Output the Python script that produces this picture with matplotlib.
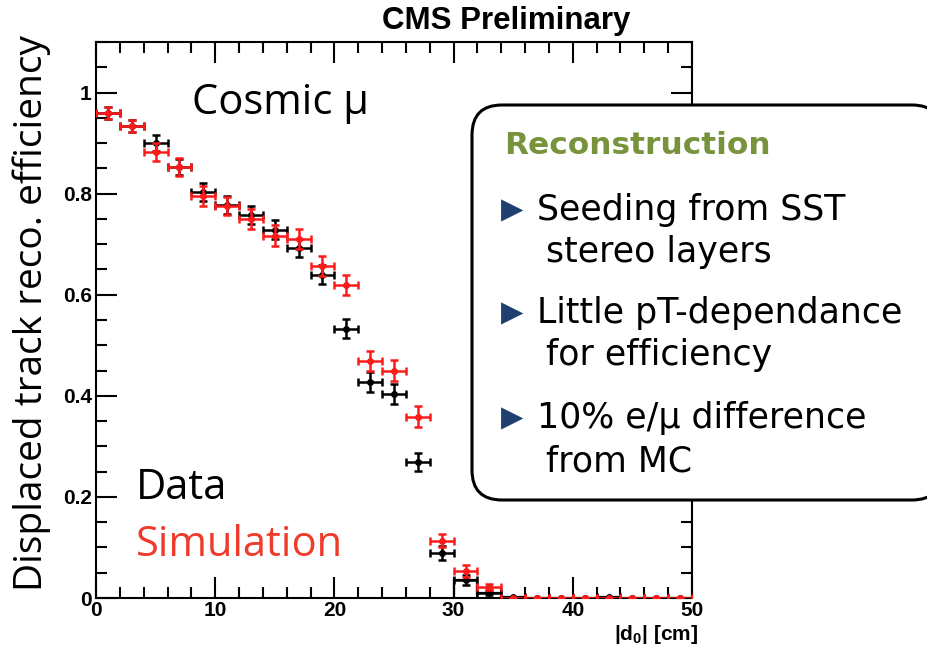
import matplotlib
matplotlib.use("Agg")
import matplotlib.pyplot as plt
from matplotlib.patches import FancyBboxPatch
from matplotlib.transforms import IdentityTransform
from matplotlib.ticker import MultipleLocator

# bin centres of |d0| [cm], 2 cm bins
bin_centres = [1, 3, 5, 7, 9, 11, 13, 15, 17, 19, 21, 23, 25,
               27, 29, 31, 33, 35, 37, 39, 41, 43, 45, 47, 49]
bin_half = 1.0

# efficiency
data_eff = [0.960, 0.933, 0.900, 0.853, 0.804, 0.778, 0.758, 0.729, 0.693,
            0.640, 0.533, 0.427, 0.404, 0.269, 0.089, 0.036, 0.010, 0.002,
            0.0, 0.0, 0.0, 0.002, 0.0, 0.0, 0.0]
data_err = [0.012, 0.012, 0.016, 0.016, 0.018, 0.018, 0.018, 0.018, 0.018,
            0.019, 0.019, 0.020, 0.020, 0.018, 0.013, 0.010, 0.005, 0.0,
            0.0, 0.0, 0.0, 0.0, 0.0, 0.0, 0.0]
sim_eff = [0.960, 0.933, 0.883, 0.853, 0.796, 0.775, 0.750, 0.717, 0.711,
           0.657, 0.620, 0.469, 0.450, 0.359, 0.113, 0.054, 0.022, 0.0,
           0.0, 0.0, 0.0, 0.0, 0.0, 0.0, 0.0]
sim_err = [0.012, 0.012, 0.018, 0.018, 0.020, 0.018, 0.020, 0.020, 0.020,
           0.020, 0.020, 0.020, 0.020, 0.020, 0.013, 0.012, 0.006, 0.0,
           0.0, 0.0, 0.0, 0.0, 0.0, 0.0, 0.0]

# tail of the data histogram drawn as a step outline (from 30 cm)
tail_start = 15

W, H = 928, 655
fig = plt.figure(figsize=(W / 100, H / 100), dpi=100)
plt.rcParams['mathtext.fontset'] = 'custom'
plt.rcParams['mathtext.bf'] = 'Liberation Sans:bold'
plt.rcParams['mathtext.rm'] = 'Liberation Sans'

ax = fig.add_axes([96 / W, 1 - 598 / H, (692 - 96) / W, (598 - 42) / H])
ax.set_xlim(0, 50)
ax.set_ylim(0, 1.1)

edges = [c - bin_half for c in bin_centres[tail_start:]] + [bin_centres[-1] + bin_half]
ax.stairs(data_eff[tail_start:], edges, color='black', lw=1.6, zorder=2)

ax.errorbar(bin_centres, data_eff, xerr=bin_half, yerr=data_err, fmt='o',
            color='black', ms=4, lw=1.8, capsize=3, capthick=1.8, zorder=3)
ax.errorbar(bin_centres, sim_eff, xerr=bin_half, yerr=sim_err, fmt='o',
            color='#ff1a1a', ms=4, lw=1.8, capsize=3, capthick=1.8, zorder=4)

for s in ax.spines.values():
    s.set_linewidth(1.5)
ax.xaxis.set_major_locator(MultipleLocator(10))
ax.xaxis.set_minor_locator(MultipleLocator(2))
ax.yaxis.set_major_locator(MultipleLocator(0.2))
ax.yaxis.set_minor_locator(MultipleLocator(0.05))
ax.tick_params(which='both', direction='in', top=True, right=True, width=1.5)
ax.tick_params(which='major', length=15)
ax.tick_params(which='minor', length=8)
ax.tick_params(axis='x', pad=2)
ax.tick_params(axis='y', pad=3)
ax.set_yticks([0, 0.2, 0.4, 0.6, 0.8, 1.0])
ax.set_yticklabels(['0', '0.2', '0.4', '0.6', '0.8', '1'])
for lab in ax.get_xticklabels() + ax.get_yticklabels():
    lab.set_fontfamily('Liberation Sans')
    lab.set_fontweight('bold')
    lab.set_fontsize(15)

px = IdentityTransform()


def put(x, y_top, s, **kw):
    # place text at pixel position measured from the top-left corner
    fig.text(x, H - y_top, s, transform=px, **kw)


put(506, 21, 'CMS Preliminary', family='Liberation Sans', weight='bold',
    fontsize=22.5, ha='center', va='center')
put(32, 313, 'Displaced track reco. efficiency', family='Open Sans',
    fontsize=28, rotation=90, ha='center', va='center')
put(698, 634, r'$\mathbf{|d_0|}$ [cm]', family='Liberation Sans',
    weight='bold', fontsize=15, ha='right', va='center')

put(192, 103, 'Cosmic μ', family='Open Sans', fontsize=30, va='center')
put(136, 488, 'Data', family='Open Sans', fontsize=30, va='center')
put(136, 545, 'Simulation', family='Open Sans', fontsize=30, va='center',
    color='#ee3b2b')

# rounded info box covering the right part of the plot
box = FancyBboxPatch((472, H - 500), 470, 395, boxstyle='round,pad=0,rounding_size=30',
                     transform=px, facecolor='white', edgecolor='black', lw=2.2,
                     zorder=10)
fig.add_artist(box)

put(504, 145, 'Reconstruction', family='DejaVu Sans', weight='bold',
    fontsize=22.5, color='#77933c', va='center', zorder=11)
bullets = [(210, 'Seeding from SST', 252, 'stereo layers'),
           (313, 'Little pT-dependance', 355, 'for efficiency'),
           (418, '10% e/μ difference', 462, 'from MC')]
for y1, l1, y2, l2 in bullets:
    put(501, y1, '▶', family='DejaVu Sans', fontsize=21, color='#1f3f6e',
        va='center', zorder=11)
    put(537, y1, l1, family='DejaVu Sans', fontsize=25, va='center', zorder=11)
    put(546, y2, l2, family='DejaVu Sans', fontsize=25, va='center', zorder=11)

fig.savefig('out.png', dpi=100)
